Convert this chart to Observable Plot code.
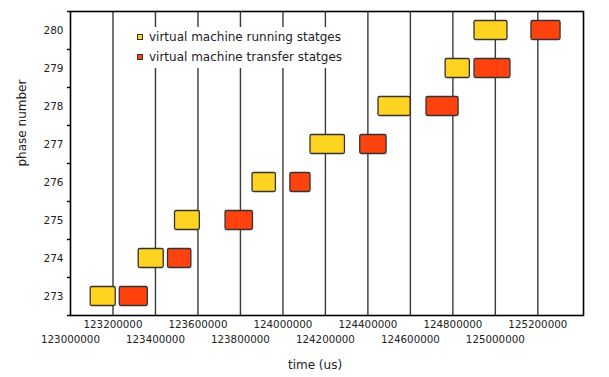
<!DOCTYPE html>
<html>
<head>
<meta charset="utf-8">
<script src="https://cdn.jsdelivr.net/npm/d3@7"></script>
<script src="https://cdn.jsdelivr.net/npm/@observablehq/plot@0.6"></script>
<style>
  html, body { margin: 0; padding: 0; background: #fff; }
  #wrap { position: relative; width: 609px; height: 377px; font-family: "DejaVu Sans", sans-serif; }
  #legend { position: absolute; left: 134px; top: 27px; width: 222px; height: 41px; background: #fff; font-size: 12px; color: #222; }
  .row { position: absolute; left: 0; height: 16px; line-height: 16px; white-space: nowrap; }
  .sw { position: absolute; left: 3px; top: 5px; width: 4px; height: 4px; border: 1px solid #333; }
  .lab { position: absolute; left: 15px; top: 0; }
</style>
</head>
<body>
<div id="wrap"></div>
<script>
// ---- data ----
const phases = [273, 274, 275, 276, 277, 278, 279, 280];
const runStart = [123095000, 123321000, 123492000, 123857000, 124130000, 124450000, 124766000, 124902000];
const runEnd   = [123213000, 123439000, 123609000, 123967000, 124292000, 124601000, 124880000, 125057000];
const trnStart = [123232000, 123459000, 123730000, 124035000, 124364000, 124676000, 124902000, 125170000];
const trnEnd   = [123364000, 123569000, 123859000, 124130000, 124488000, 124827000, 125071000, 125307000];
const seriesNames = ["virtual machine running statges", "virtual machine transfer statges"];
const seriesColors = ["#ffd320", "#ff420e"];
const xTickLabels = [123000000, 123200000, 123400000, 123600000, 123800000, 124000000,
                     124200000, 124400000, 124600000, 124800000, 125000000, 125200000];
const xGrid = xTickLabels.slice(1);
const xDomain = [123000000, 125415000];
const yDomain = [272.5, 280.5];

const rows = [];
phases.forEach((p, i) => {
  rows.push({phase: p, start: runStart[i], end: runEnd[i], s: seriesNames[0]});
  rows.push({phase: p, start: trnStart[i], end: trnEnd[i], s: seriesNames[1]});
});
const bandEdges = d3.range(phases.length + 1).map(i => yDomain[0] + i);
const upperRow = xTickLabels.filter((d, i) => i % 2 === 1);
const lowerRow = xTickLabels.filter((d, i) => i % 2 === 0);

const chart = Plot.plot({
  width: 609,
  height: 377,
  marginLeft: 70,
  marginRight: 26,
  marginTop: 11,
  marginBottom: 62,
  style: {fontFamily: "DejaVu Sans, sans-serif", background: "#fff", color: "#222"},
  x: {domain: xDomain, axis: null},
  y: {domain: yDomain, axis: null},
  color: {domain: seriesNames, range: seriesColors},
  marks: [
    Plot.ruleX(xGrid, {x: d => d, stroke: "#3a3a3a", strokeWidth: 1.4}),
    Plot.rect(rows, {
      x1: "start", x2: "end",
      y1: d => d.phase - 0.25, y2: d => d.phase + 0.25,
      fill: "s", stroke: "#333", strokeWidth: 1.3, rx: 1.5
    }),
    Plot.frame({stroke: "#000", strokeWidth: 1.6}),
    Plot.axisY(bandEdges, {tickSize: 3, tickFormat: () => "", stroke: "#000", strokeWidth: 1.4}),
    Plot.text(phases, {y: d => d, text: d => String(d), frameAnchor: "left", textAnchor: "end", dx: -7, fontSize: 10.5, fill: "#222"}),
    Plot.text(upperRow, {x: d => d, text: d => String(d), frameAnchor: "bottom", dy: 12, fontSize: 10.3, fill: "#222"}),
    Plot.text(lowerRow, {x: d => d, text: d => String(d), frameAnchor: "bottom", dy: 27, fontSize: 10.3, fill: "#222"}),
    Plot.text(["time (us)"], {text: d => d, frameAnchor: "bottom", dx: -12, dy: 53, fontSize: 12, fill: "#222"}),
    Plot.text(["phase number"], {text: d => d, frameAnchor: "left", dx: -48, dy: 3, rotate: -90, fontSize: 12, fill: "#222"})
  ]
});

const wrap = document.getElementById("wrap");
wrap.appendChild(chart);

const legend = document.createElement("div");
legend.id = "legend";
seriesNames.forEach((name, i) => {
  const row = document.createElement("div");
  row.className = "row";
  row.style.top = (2 + i * 20) + "px";
  const sw = document.createElement("span");
  sw.className = "sw";
  sw.style.background = seriesColors[i];
  const lab = document.createElement("span");
  lab.className = "lab";
  lab.textContent = name;
  row.appendChild(sw);
  row.appendChild(lab);
  legend.appendChild(row);
});
wrap.appendChild(legend);
</script>
</body>
</html>
